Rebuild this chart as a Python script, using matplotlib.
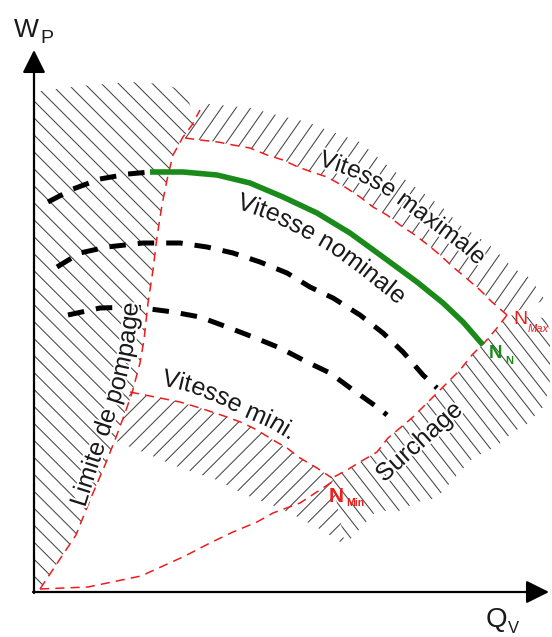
import numpy as np
import matplotlib
matplotlib.use("Agg")
import matplotlib.pyplot as plt
from matplotlib.collections import LineCollection
from matplotlib.patches import Polygon
from matplotlib.font_manager import FontProperties, findfont, get_font
import matplotlib.patheffects as pe

W, H, DPI = 552, 637, 100
FAM = "Liberation Sans"
RED = "#ee1c1c"
GREEN = "#1a8a1a"
TXT = "#1a1a1a"

# ---------------- curves (image pixel coordinates) ------------
nominal_x = [150, 183, 217, 250, 283, 317, 350, 383, 417, 443, 463, 483]
nominal_y = [172, 172, 175, 183, 197, 213, 233, 257, 282, 303, 322, 345]

speed1_x = [48, 73, 100, 128, 150]
speed1_y = [202, 189, 179, 174, 172]

speed2_x = [57, 80, 107, 143, 180, 207, 233, 260, 287, 310, 333, 360, 383, 403, 423, 437]
speed2_y = [267, 253, 247, 243, 243, 247, 253, 262, 273, 287, 298, 315, 333, 352, 375, 388]

speed3_x = [68, 100, 135, 173, 200, 227, 253, 280, 307, 330, 353, 377, 387]
speed3_y = [315, 308, 307, 312, 317, 327, 337, 348, 362, 373, 390, 407, 415]

pump_x = [40, 44, 56, 76, 90, 105, 115, 125, 132, 140, 144, 148, 153, 157, 162, 167, 173, 183, 192, 200]
pump_y = [589, 583, 565, 535, 500, 465, 440, 413, 393, 363, 340, 303, 270, 237, 205, 180, 155, 137, 125, 110]

max_x = [185, 200, 218, 233, 250, 267, 283, 298, 312, 327, 345, 360, 373, 387, 400, 415, 428, 440, 453, 465, 480, 492, 507]
max_y = [138, 140, 142, 145, 148, 155, 160, 167, 172, 177, 187, 197, 207, 215, 225, 235, 245, 255, 267, 277, 290, 302, 315]

choke_x = [507, 497, 485, 472, 460, 448, 438, 425, 413, 400, 388, 377, 360, 347, 332]
choke_y = [315, 328, 342, 355, 370, 382, 392, 405, 417, 428, 438, 452, 462, 470, 478]

mini_x = [130, 160, 180, 200, 227, 243, 257, 273, 287, 300, 317, 332]
mini_y = [392, 398, 402, 408, 417, 423, 430, 440, 448, 458, 468, 478]

lower_x = [40, 88, 141, 185, 210, 233, 257, 273, 300, 332]
lower_y = [589, 587, 576, 556, 543, 532, 522, 513, 503, 482]

# ---------------- hatched zones --------------------------------------------------------
zone_left_x = [34, 34, 80, 130, 165, 185, 197] + pump_x[::-1][2:]
zone_left_y = [589, 92, 86, 82, 84, 92, 122] + pump_y[::-1][2:]

zone_top_x = max_x + [545, 530, 513, 497, 487, 460, 443, 430, 403, 383, 360, 327, 307, 277, 250, 220, 197]
zone_top_y = max_y + [300, 278, 268, 252, 243, 225, 208, 198, 178, 162, 142, 130, 122, 115, 108, 105, 103]

zone_right_x = choke_x + [345, 377, 397, 417, 437, 457, 473, 497, 513, 527, 545, 550, 550, 545]
zone_right_y = choke_y + [545, 510, 512, 502, 498, 475, 458, 446, 432, 424, 405, 380, 330, 318]

zone_bottom_x = mini_x + [345, 325, 300, 277, 253, 240, 217, 193, 173, 157, 143, 120, 115, 125]
zone_bottom_y = mini_y + [545, 532, 518, 507, 498, 492, 480, 472, 465, 458, 452, 443, 440, 413]

fig = plt.figure(figsize=(W / DPI, H / DPI), dpi=DPI)
ax = fig.add_axes([0, 0, 1, 1])
ax.set_xlim(0, W)
ax.set_ylim(H, 0)
ax.axis("off")


def hatch(xs, ys, angle, spacing, color="#454545", lw=0.75):
    poly = Polygon(np.column_stack([xs, ys]), closed=True, facecolor="none",
                   edgecolor="none")
    ax.add_patch(poly)
    a = np.radians(angle)
    d = np.array([np.cos(a), np.sin(a)])
    n = np.array([-np.sin(a), np.cos(a)])
    c0 = np.array([np.mean(xs), np.mean(ys)])
    L = 700
    segs = [[c0 + c * n - L * d, c0 + c * n + L * d] for c in np.arange(-L, L, spacing)]
    lc = LineCollection(segs, colors=color, linewidths=lw, zorder=1)
    lc.set_clip_path(poly)
    ax.add_collection(lc, autolim=False)


hatch(zone_left_x, zone_left_y, 45, 12)
hatch(zone_top_x, zone_top_y, -55, 12)
hatch(zone_right_x, zone_right_y, 52, 11)
hatch(zone_bottom_x, zone_bottom_y, -45, 12)

red_kw = dict(color=RED, lw=1.1, linestyle=(0, (6, 4)), zorder=3)
for xs, ys in [(pump_x, pump_y), (max_x, max_y), (choke_x, choke_y),
               (mini_x, mini_y), (lower_x, lower_y)]:
    ax.plot(xs, ys, **red_kw)

blk_kw = dict(color="black", lw=3.6, linestyle=(0, (3.3, 2.4)), zorder=4,
              solid_capstyle="butt", dash_capstyle="butt")
for xs, ys in [(speed1_x, speed1_y), (speed2_x, speed2_y), (speed3_x, speed3_y)]:
    ax.plot(xs, ys, **blk_kw)
ax.plot(nominal_x, nominal_y, color=GREEN, lw=4.0, zorder=5, solid_capstyle="butt")

# ---------------- axes with arrows ----------------------------------------------------
arr = dict(arrowstyle="-|>,head_length=1.0,head_width=0.5", color="black", lw=1.6,
           shrinkA=0, shrinkB=0, mutation_scale=14)
ax.annotate("", xy=(34, 50), xytext=(34, 593), arrowprops=arr, zorder=6)
ax.annotate("", xy=(549, 592), xytext=(33, 592), arrowprops=arr, zorder=6)

ax.text(14, 37, "W", fontsize=19, family=FAM, color=TXT, va="baseline", ha="left")
ax.text(40, 43, "P", fontsize=14, family=FAM, color=TXT, va="baseline", ha="left")
ax.text(486, 627, "Q", fontsize=20, family=FAM, color=TXT, va="baseline", ha="left")
ax.text(508, 633, "V", fontsize=12, family=FAM, color=TXT, va="baseline", ha="left")


# ---------------- curved labels -------------------------------------------------------
def text_along(s, pxs, pys, size, start=0.0, color=TXT):
    prop = FontProperties(family=FAM, size=size)
    font = get_font(findfont(prop))
    font.set_size(size, 72)
    adv = [font.load_char(ord(ch)).linearHoriAdvance / 65536 * DPI / 72 for ch in s]
    pxs = np.asarray(pxs, float)
    pys = np.asarray(pys, float)
    cum = np.concatenate([[0], np.cumsum(np.hypot(np.diff(pxs), np.diff(pys)))])
    pos = start
    for ch, a in zip(s, adv):
        dmid = pos + a / 2
        pos += a
        if ch == " ":
            continue
        x = np.interp(dmid, cum, pxs)
        y = np.interp(dmid, cum, pys)
        xa, ya = np.interp(dmid - 4, cum, pxs), np.interp(dmid - 4, cum, pys)
        xb, yb = np.interp(dmid + 4, cum, pxs), np.interp(dmid + 4, cum, pys)
        ang = np.degrees(np.arctan2(-(yb - ya), xb - xa))
        ax.text(x, y, ch, fontproperties=prop, color=color, rotation=ang,
                rotation_mode="anchor", ha="center", va="baseline", zorder=7,
                path_effects=[pe.withStroke(linewidth=3, foreground="white")])


text_along("Vitesse maximale", [318, 350, 383, 413, 440, 463, 495],
           [165, 176, 193, 215, 235, 252, 282], 17.5)
text_along("Vitesse nominale", [236, 270, 300, 330, 360, 390, 420],
           [208, 220, 235, 252, 274, 298, 325], 18)
text_along("Vitesse mini.", [161, 190, 220, 247, 270, 300],
           [385, 392, 404, 418, 428, 446], 18)
text_along("Limite de pompage", [85, 97, 113, 125, 133, 137, 139],
           [508, 470, 422, 385, 350, 320, 280], 18)
text_along("Surchage", [384, 480], [483, 397], 18)

# point labels
ax.text(513, 324, "N", fontsize=14, family=FAM, color=RED, va="baseline")
ax.text(528, 332, "Max", fontsize=8, family=FAM, color=RED, style="italic", va="baseline")
ax.text(489, 358, "N", fontsize=13.5, family=FAM, color=GREEN, weight="bold", va="baseline")
ax.text(505, 364, "N", fontsize=8, family=FAM, color=GREEN, weight="bold", va="baseline")
ax.text(329, 502, "N", fontsize=15, family=FAM, color=RED, weight="bold", va="baseline")
ax.text(346, 506, "Min", fontsize=7.5, family=FAM, color=RED, weight="bold", va="baseline")

fig.savefig("out.png", dpi=DPI)
